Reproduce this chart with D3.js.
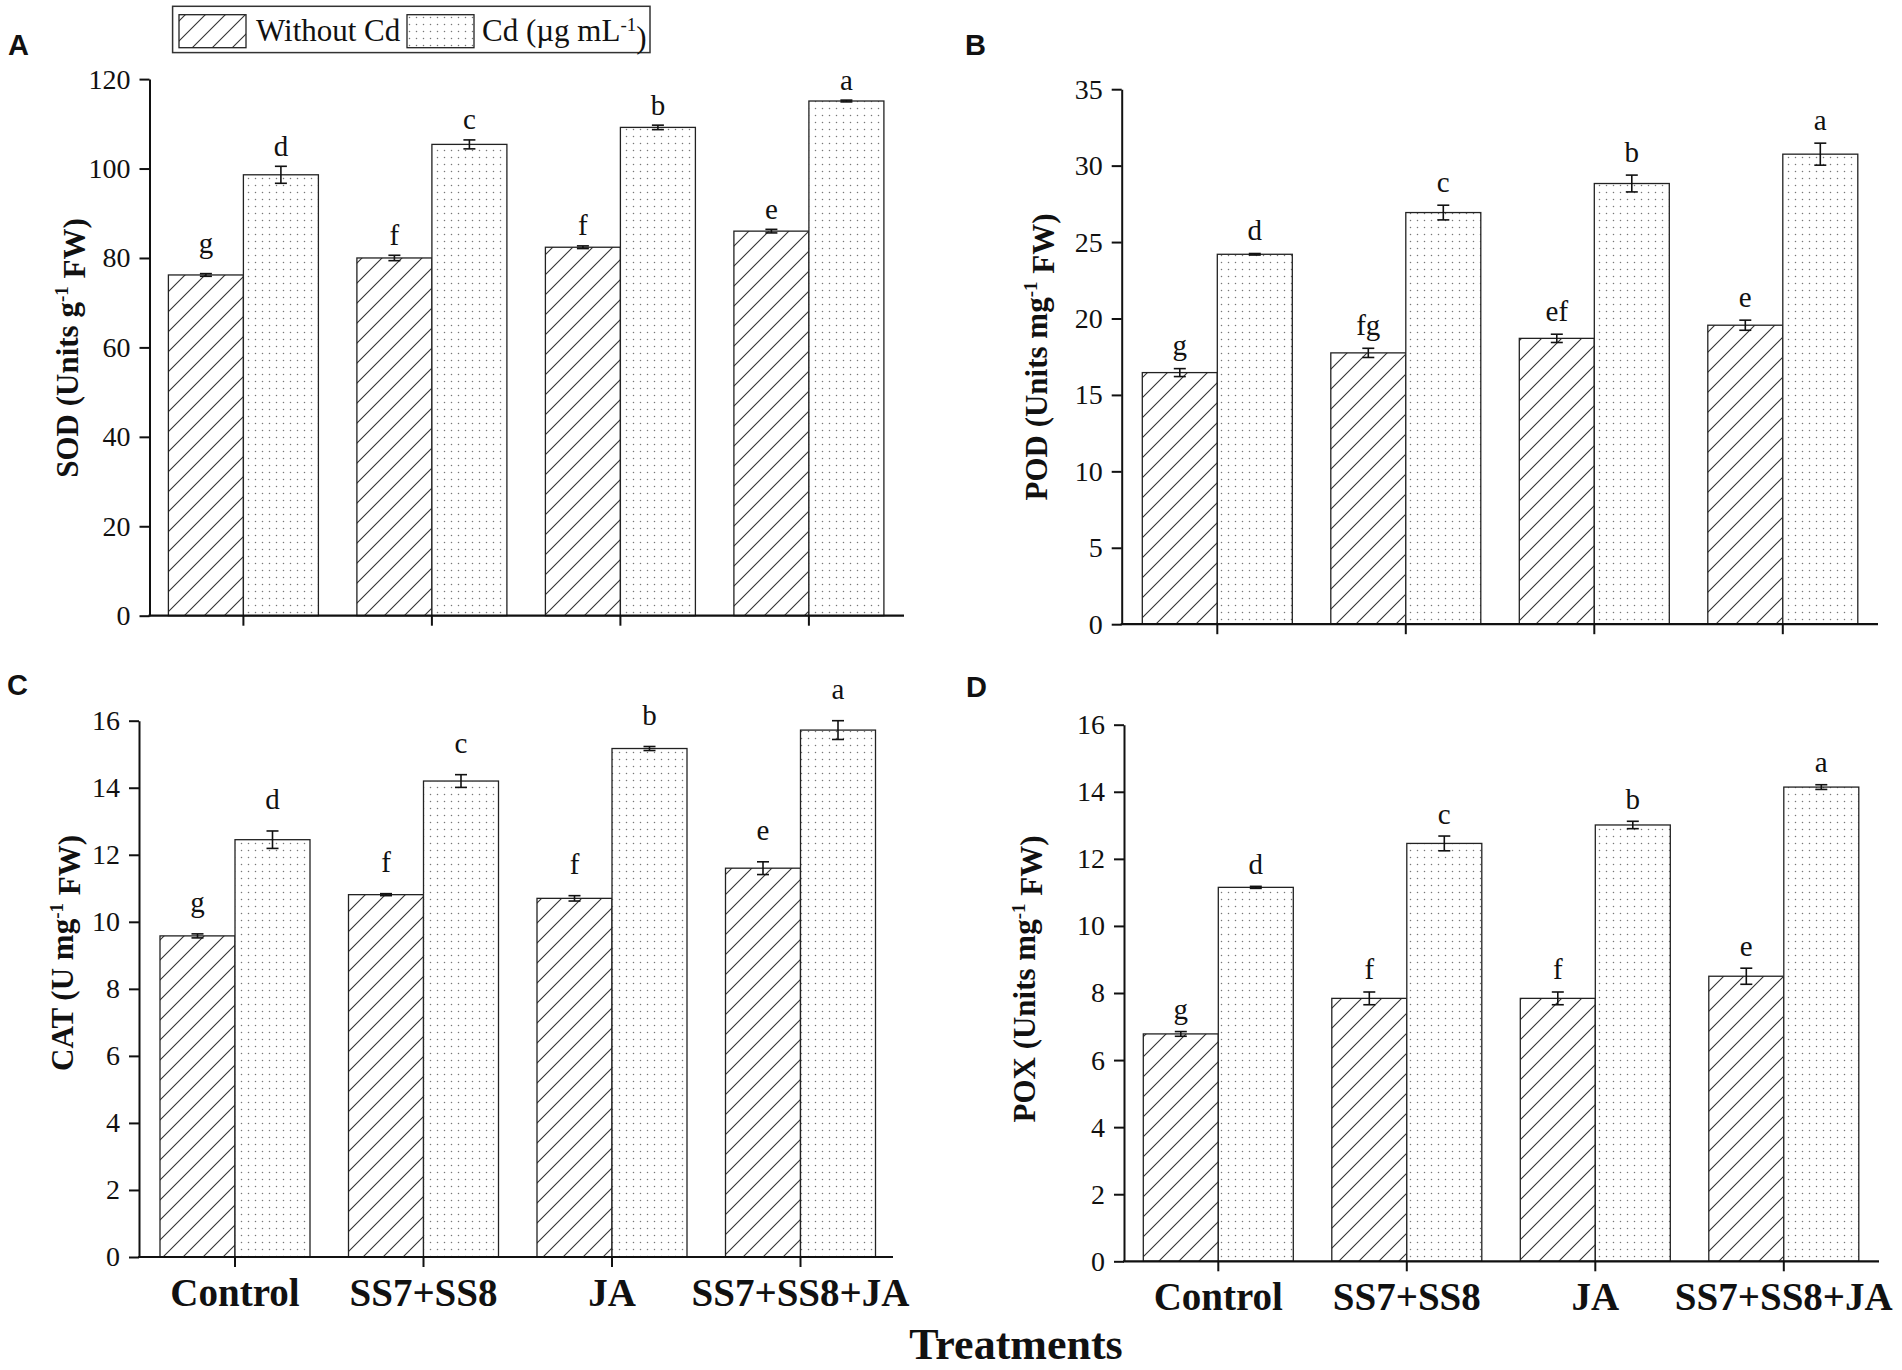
<!DOCTYPE html>
<html>
<head>
<meta charset="utf-8">
<script src="https://cdn.jsdelivr.net/npm/d3@7"></script>
<style>
  body { margin: 0; background: #fff; }
  text { font-family: "Liberation Serif", "Times New Roman", serif; fill: #111; }
</style>
</head>
<body>
<div id="maViz"></div>
<script>
// ---- donnees ----
const treatments = ["Control", "SS7+SS8", "JA", "SS7+SS8+JA"];
const series = ["Without Cd", "Cd"];

// A : SOD
const sodWithout = [76.2, 80.0, 82.4, 86.0];
const sodWithoutErr = [0.3, 0.6, 0.3, 0.4];
const sodCd = [98.6, 105.4, 109.2, 115.1];
const sodCdErr = [1.9, 1.0, 0.5, 0.2];
const sodLettersWithout = ["g", "f", "f", "e"];
const sodLettersCd = ["d", "c", "b", "a"];
const sodTicks = [0, 20, 40, 60, 80, 100, 120];

// B : POD
const podWithout = [16.46, 17.75, 18.7, 19.56];
const podWithoutErr = [0.26, 0.3, 0.27, 0.33];
const podCd = [24.2, 26.93, 28.83, 30.75];
const podCdErr = [0.05, 0.48, 0.55, 0.72];
const podLettersWithout = ["g", "fg", "ef", "e"];
const podLettersCd = ["d", "c", "b", "a"];
const podTicks = [0, 5, 10, 15, 20, 25, 30, 35];

// C : CAT
const catWithout = [9.58, 10.81, 10.7, 11.6];
const catWithoutErr = [0.06, 0.03, 0.08, 0.19];
const catCd = [12.45, 14.2, 15.17, 15.72];
const catCdErr = [0.26, 0.19, 0.06, 0.28];
const catLettersWithout = ["g", "f", "f", "e"];
const catLettersCd = ["d", "c", "b", "a"];
const catTicks = [0, 2, 4, 6, 8, 10, 12, 14, 16];

// D : POX
const poxWithout = [6.78, 7.84, 7.84, 8.5];
const poxWithoutErr = [0.07, 0.19, 0.19, 0.24];
const poxCd = [11.15, 12.46, 13.01, 14.14];
const poxCdErr = [0.03, 0.22, 0.11, 0.07];
const poxLettersWithout = ["g", "f", "f", "e"];
const poxLettersCd = ["d", "c", "b", "a"];
const poxTicks = [0, 2, 4, 6, 8, 10, 12, 14, 16];

// ---- mise en page ----
const width = 1902, height = 1370;
const step = 188.5;   // pas entre groupes
const gap = 38.5;     // espace entre groupes

const svg = d3.select("#maViz").append("svg")
  .attr("width", width)
  .attr("height", height);

// motifs : hachures et points
const defs = svg.append("defs");
defs.append("pattern")
    .attr("id", "hatch")
    .attr("patternUnits", "userSpaceOnUse")
    .attr("width", 20).attr("height", 20)
  .call(p => {
    p.append("rect").attr("width", 20).attr("height", 20).attr("fill", "#fff");
    p.append("path").attr("d", "M-5,5 L5,-5 M0,20 L20,0 M15,25 L25,15")
      .attr("stroke", "#333").attr("stroke-width", 1.1);
  });
defs.append("pattern")
    .attr("id", "dots")
    .attr("patternUnits", "userSpaceOnUse")
    .attr("width", 7).attr("height", 7)
  .call(p => {
    p.append("rect").attr("width", 7).attr("height", 7).attr("fill", "#fff");
    p.append("circle").attr("cx", 3.5).attr("cy", 3.5).attr("r", 0.75).attr("fill", "#777");
  });
const fills = {"Without Cd": "url(#hatch)", "Cd": "url(#dots)"};

// labGap : distance lettre / haut de la barre d'erreur (gFirst : le "g" du temoin)
const panels = [
  {letter: "A", lx: 8, ly: 55, axisX: 149.5, y0: 615.7, yTop: 79.1, max: 120, first: 168.4, axisEnd: 904,
   ticks: sodTicks, w: sodWithout, we: sodWithoutErr, c: sodCd, ce: sodCdErr, lw: sodLettersWithout, lc: sodLettersCd,
   label: ["SOD (Units g", "-1", " FW)"], labX: 78, labY: 348, xLabels: false, labGap: 10.5, gFirst: 21},
  {letter: "B", lx: 965, ly: 55, axisX: 1121.7, y0: 624.2, yTop: 89.2, max: 35, first: 1142.3, axisEnd: 1878,
   ticks: podTicks, w: podWithout, we: podWithoutErr, c: podCd, ce: podCdErr, lw: podLettersWithout, lc: podLettersCd,
   label: ["POD (Units mg", "-1", " FW)"], labX: 1047, labY: 357, xLabels: false, labGap: 13.5, gFirst: 13.5},
  {letter: "C", lx: 7, ly: 695, axisX: 139, y0: 1257, yTop: 720.7, max: 16, first: 160, axisEnd: 893,
   ticks: catTicks, w: catWithout, we: catWithoutErr, c: catCd, ce: catCdErr, lw: catLettersWithout, lc: catLettersCd,
   label: ["CAT (U mg", "-1", " FW)"], labX: 73, labY: 953, xLabels: true, labGap: 21.5, gFirst: 21.5},
  {letter: "D", lx: 966, ly: 697, axisX: 1124, y0: 1261.3, yTop: 724.7, max: 16, first: 1143.3, axisEnd: 1879,
   ticks: poxTicks, w: poxWithout, we: poxWithoutErr, c: poxCd, ce: poxCdErr, lw: poxLettersWithout, lc: poxLettersCd,
   label: ["POX (Units mg", "-1", " FW)"], labX: 1035, labY: 979, xLabels: true, labGap: 12.5, gFirst: 12.5}
];

panels.forEach(drawPanel);

function drawPanel(p) {
  const g = svg.append("g");

  const y = d3.scaleLinear().domain([0, p.max]).range([p.y0, p.yTop]);
  const r0 = p.first - gap / 2;
  const x = d3.scaleBand().domain(treatments)
    .range([r0, r0 + 4 * step])
    .paddingInner(gap / step)
    .paddingOuter(gap / step / 2);
  const xs = d3.scaleBand().domain(series).range([0, x.bandwidth()]);

  const rows = [];
  treatments.forEach((t, i) => {
    rows.push({t: t, s: "Without Cd", v: p.w[i], e: p.we[i], l: p.lw[i], k: i === 0 ? p.gFirst : p.labGap});
    rows.push({t: t, s: "Cd", v: p.c[i], e: p.ce[i], l: p.lc[i], k: p.labGap});
  });

  // barres
  g.append("g").selectAll("rect")
    .data(rows)
    .join("rect")
      .attr("x", d => x(d.t) + xs(d.s))
      .attr("y", d => y(d.v))
      .attr("width", xs.bandwidth())
      .attr("height", d => y(0) - y(d.v))
      .attr("fill", d => fills[d.s])
      .attr("stroke", "#222")
      .attr("stroke-width", 1.3);

  // barres d'erreur
  const eb = g.append("g").attr("stroke", "#111").attr("stroke-width", 1.6);
  rows.forEach(d => {
    const cx = x(d.t) + xs(d.s) + xs.bandwidth() / 2;
    const yHi = y(d.v + d.e), yLo = y(d.v - d.e);
    eb.append("line").attr("x1", cx).attr("x2", cx).attr("y1", yHi).attr("y2", yLo);
    eb.append("line").attr("x1", cx - 6).attr("x2", cx + 6).attr("y1", yHi).attr("y2", yHi);
    eb.append("line").attr("x1", cx - 6).attr("x2", cx + 6).attr("y1", yLo).attr("y2", yLo);
  });

  // lettres
  g.append("g").selectAll("text")
    .data(rows)
    .join("text")
      .attr("x", d => x(d.t) + xs(d.s) + xs.bandwidth() / 2)
      .attr("y", d => y(d.v + d.e) - d.k)
      .attr("text-anchor", "middle")
      .style("font-size", "29px")
      .text(d => d.l);

  // axe Y
  const ya = g.append("g")
    .attr("transform", `translate(${p.axisX},0)`)
    .call(d3.axisLeft(y).tickValues(p.ticks).tickSize(10).tickSizeOuter(0).tickPadding(9));
  ya.select(".domain").attr("stroke", "#111").attr("stroke-width", 2);
  ya.selectAll(".tick line").attr("stroke", "#111").attr("stroke-width", 2);
  ya.selectAll(".tick text")
    .style("font-size", "28px")
    .style("font-family", '"Liberation Serif", serif')
    .attr("fill", "#111");

  // axe X
  g.append("line")
    .attr("x1", p.axisX - 1).attr("x2", p.axisEnd)
    .attr("y1", p.y0).attr("y2", p.y0)
    .attr("stroke", "#111").attr("stroke-width", 2.2);
  const xa = g.append("g")
    .attr("transform", `translate(0,${p.y0})`)
    .call(d3.axisBottom(x).tickSize(10).tickSizeOuter(0).tickPadding(11)
      .tickFormat(p.xLabels ? (d => d) : (() => "")));
  xa.select(".domain").remove();
  xa.selectAll(".tick line").attr("stroke", "#111").attr("stroke-width", 2);
  xa.selectAll(".tick text")
    .attr("dy", "0.71em")
    .style("font-size", "39px")
    .style("font-weight", "bold")
    .style("font-family", '"Liberation Serif", serif')
    .attr("fill", "#111");

  // titre axe Y
  const lab = g.append("text")
    .attr("transform", `translate(${p.labX},${p.labY}) rotate(-90)`)
    .attr("text-anchor", "middle")
    .style("font-size", "31px")
    .style("font-weight", "bold");
  lab.append("tspan").text(p.label[0]);
  lab.append("tspan").attr("dy", "-0.55em").style("font-size", "19px").text(p.label[1]);
  lab.append("tspan").attr("dy", "0.55em").text(p.label[2]);

  // lettre du panneau
  svg.append("text")
    .attr("x", p.lx).attr("y", p.ly)
    .style("font-family", '"Liberation Sans", Arial, sans-serif')
    .style("font-weight", "bold")
    .style("font-size", "29px")
    .text(p.letter);
}

// titre axe X commun
svg.append("text")
  .attr("x", 1016).attr("y", 1359)
  .attr("text-anchor", "middle")
  .style("font-size", "44px")
  .style("font-weight", "bold")
  .text("Treatments");

// legende
const leg = svg.append("g");
leg.append("rect")
  .attr("x", 172.6).attr("y", 6.3).attr("width", 477.4).attr("height", 46.3)
  .attr("fill", "#fff").attr("stroke", "#333").attr("stroke-width", 1.5);
const legItems = [
  {s: "Without Cd", sx: 179},
  {s: "Cd", sx: 407}
];
legItems.forEach(it => {
  leg.append("rect")
    .attr("x", it.sx).attr("y", 14.7).attr("width", 67).attr("height", 33)
    .attr("fill", fills[it.s]).attr("stroke", "#222").attr("stroke-width", 1.3);
});
leg.append("text").attr("x", 256).attr("y", 41).style("font-size", "31px").text("Without Cd");
const lt = leg.append("text").attr("x", 482).attr("y", 41).style("font-size", "31px");
lt.append("tspan").text("Cd (\u00b5g mL");
lt.append("tspan").attr("dy", "-0.55em").style("font-size", "19px").text("-1");
lt.append("tspan").attr("dy", "0.55em").text(")");
</script>
</body>
</html>
